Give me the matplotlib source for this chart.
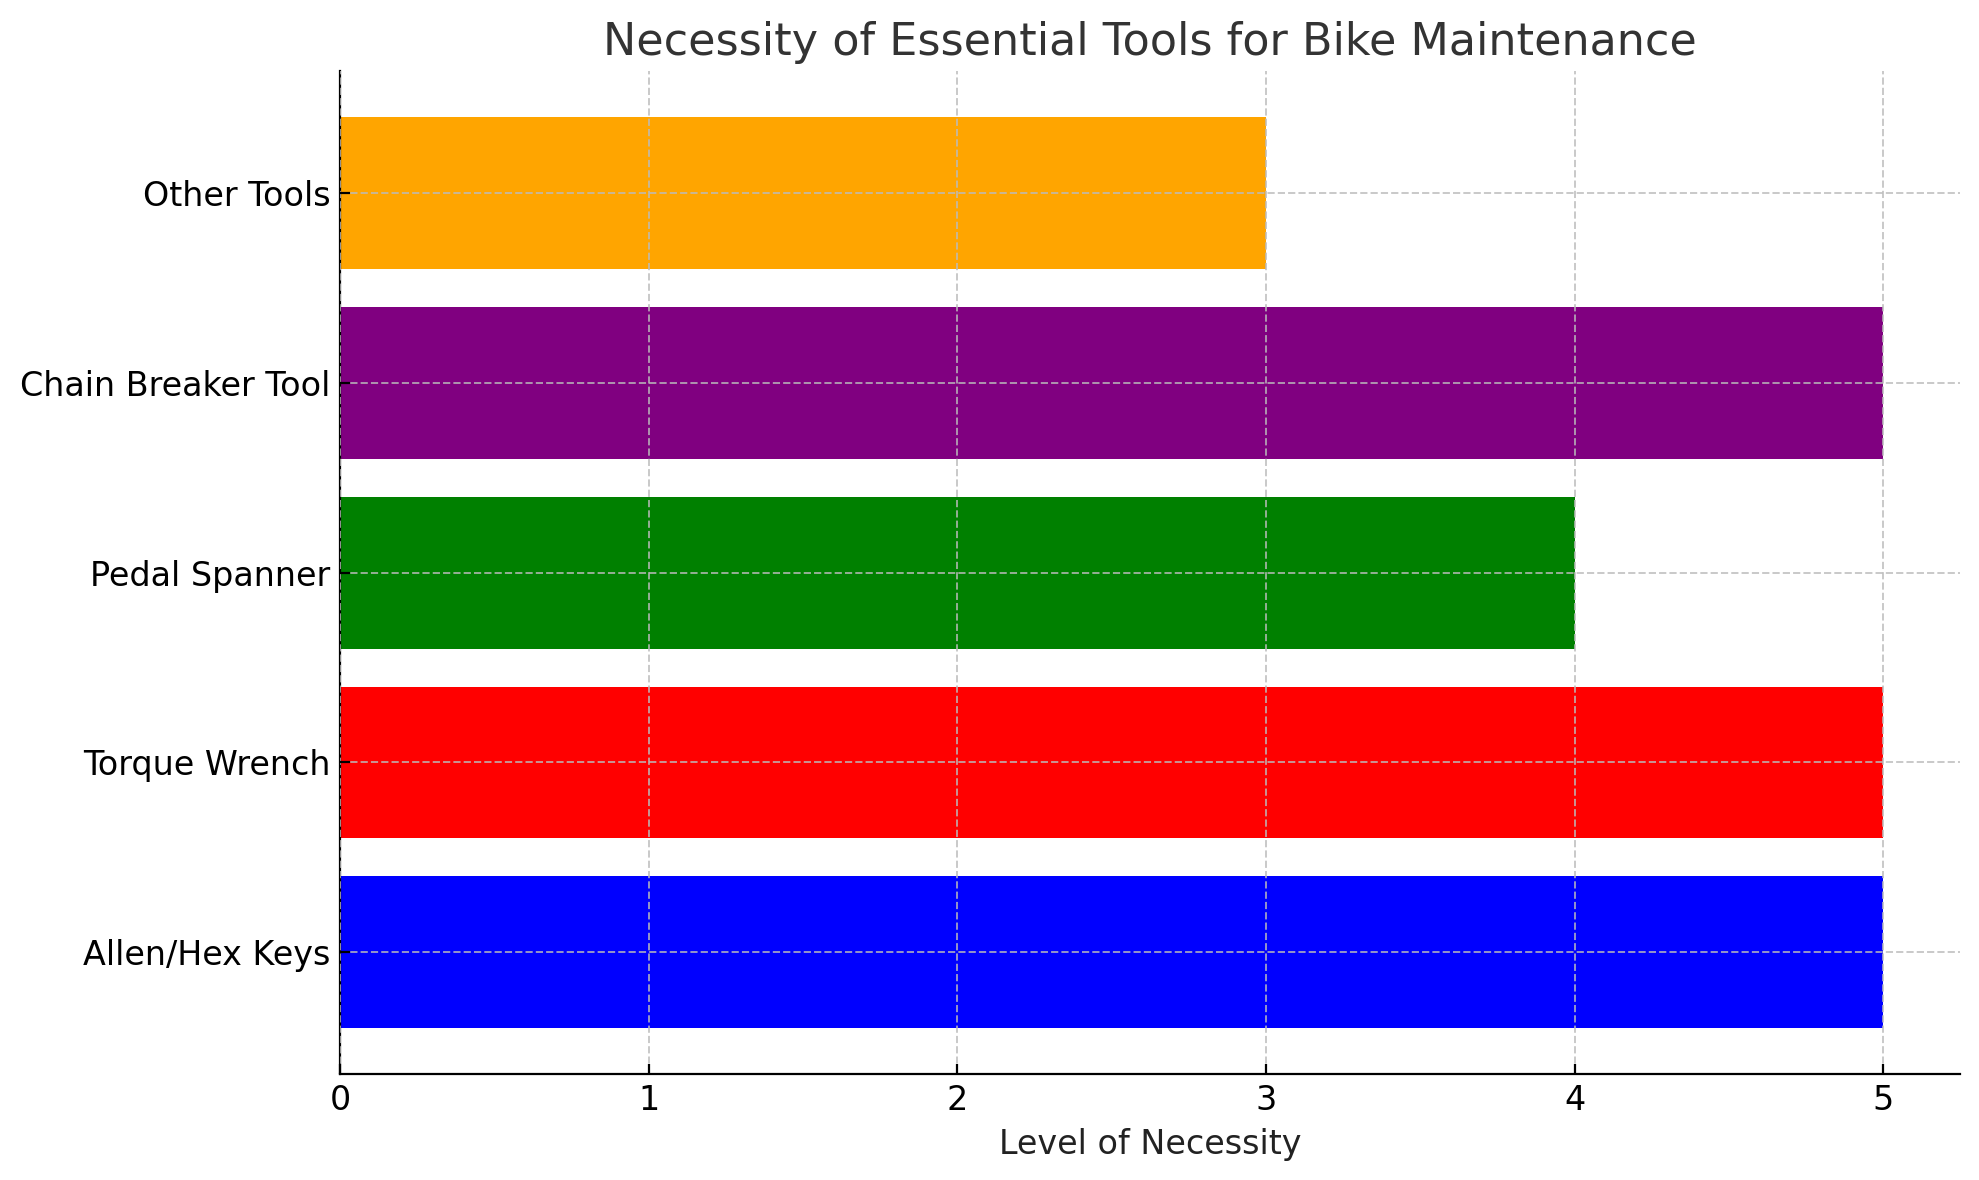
import matplotlib.pyplot as plt

# Tool data
tools = ["Allen/Hex Keys", "Torque Wrench", "Pedal Spanner", "Chain Breaker Tool", "Other Tools"]
necessity = [5, 5, 4, 5, 3]
colors = ["blue", "red", "green", "purple", "orange"]

fig, ax = plt.subplots(figsize=(9.895, 5.9), dpi=200)
fig.subplots_adjust(left=0.172, right=0.9905, top=0.9395, bottom=0.090)

ax.barh(tools, necessity, color=colors, zorder=1)

ax.set_title("Necessity of Essential Tools for Bike Maintenance", fontsize=16, color="#333333")
ax.set_xlabel("Level of Necessity", fontsize=12, color="#222222")
ax.tick_params(axis="both", labelsize=12, direction="in")

ax.grid(True, linestyle="--", color="#bbbbbb", linewidth=0.7, alpha=0.8, zorder=2)
ax.set_axisbelow(False)
for spine in ["top", "right"]:
    ax.spines[spine].set_visible(False)

fig.savefig("out.png", dpi=200)
